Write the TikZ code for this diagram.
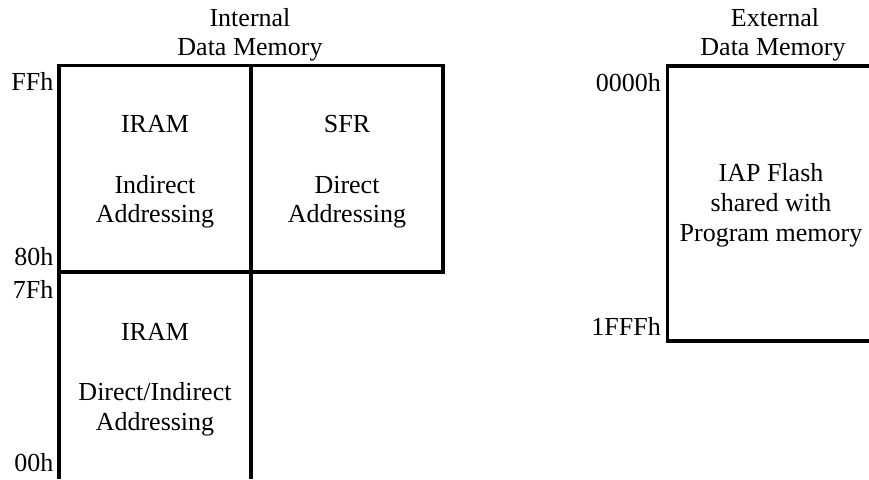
\documentclass[tikz,border=0pt]{standalone}
\usepackage{fontspec}
\setmainfont{Liberation Serif}
\begin{document}
\begin{tikzpicture}[x=1pt,y=-1pt,
  wall/.style={line width=3.6pt},
  lbl/.style={font=\fontsize{26}{30}\selectfont, inner sep=0pt, anchor=base},
  addr/.style={lbl, anchor=base east}]
\useasboundingbox (0,0) rectangle (869,479);
\clip (0,0) rectangle (869,479);
% internal data memory
\draw[wall] (59,65.5) rectangle (443,272);
\draw[wall] (251,65.5) -- (251,479);
\draw[wall] (59,272) -- (59,479);
\node[lbl] (intA) at (250,26) {Internal};
\node[lbl] (intB) at (250,55.5) {Data Memory};
\node[addr] (aFF) at (53.5,90.7) {FFh};
\node[addr] (a80) at (53.5,265) {80h};
\node[addr] (a7F) at (53.5,298.3) {7Fh};
\node[addr] (a00) at (53.5,471.7) {00h};
\node[lbl] (iram1) at (155,132.3) {IRAM};
\node[lbl] (ind1) at (155,193.3) {Indirect};
\node[lbl] (ind2) at (155,222.7) {Addressing};
\node[lbl] (sfr) at (347,132.3) {SFR};
\node[lbl] (dir1) at (347,193.3) {Direct};
\node[lbl] (dir2) at (347,222.7) {Addressing};
\node[lbl] (iram2) at (155,340) {IRAM};
\node[lbl] (di1) at (155,400) {Direct/Indirect};
\node[lbl] (di2) at (155,430) {Addressing};
% external data memory
\draw[wall] (885,65.7) -- (667.3,65.7) -- (667.3,341) -- (885,341);
\node[lbl] (extA) at (775,26.5) {External};
\node[lbl] (extB) at (773,55.5) {Data Memory};
\node[addr] (a0000) at (661,91.7) {0000h};
\node[addr] (a1FFF) at (661,335) {1FFFh};
\node[lbl] (iap1) at (771,181.7) {IAP Flash};
\node[lbl] (iap2) at (771,211.7) {shared with};
\node[lbl] (iap3) at (771,241.7) {Program memory};
\end{tikzpicture}
\end{document}
